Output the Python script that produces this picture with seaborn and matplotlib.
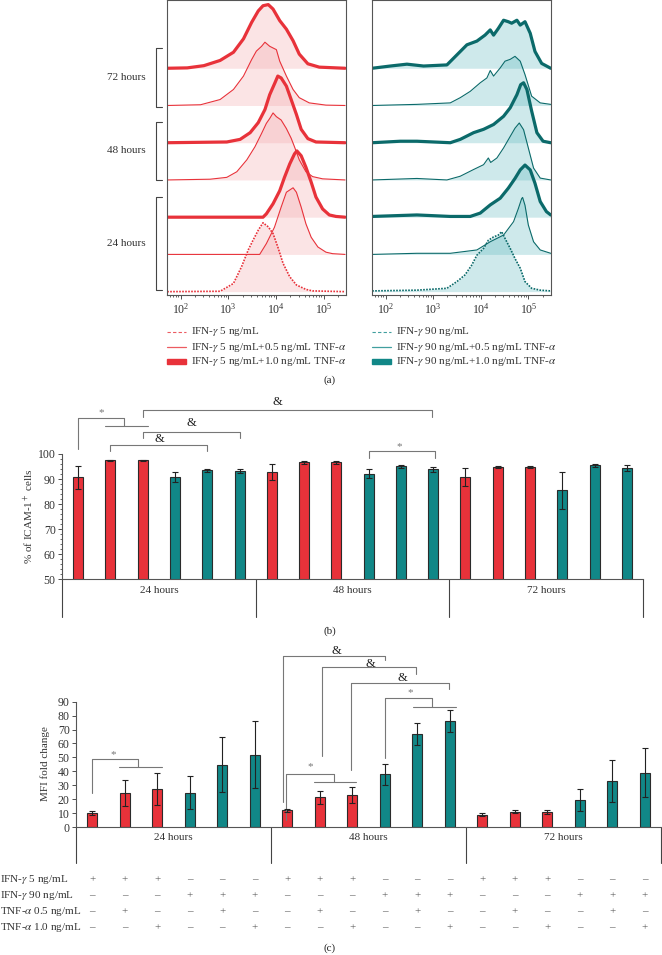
"""
ICAM-1 expression figure: flow histograms (a), % positive cells (b), MFI fold change (c).
"""
import numpy as np
import pandas as pd
import matplotlib
matplotlib.use("Agg")
import matplotlib.pyplot as plt
import matplotlib.transforms as mtransforms
from matplotlib.lines import Line2D
from matplotlib.patches import Rectangle
from matplotlib.ticker import LogLocator, NullFormatter, MultipleLocator
import seaborn as sns

# ---- data -------------------------------------------------------------------
times = ["24 hours", "48 hours", "72 hours"]

# histogram profiles: (log10 fluorescence, height in units of the row spacing)
red_ifn = [(1.72, 0), (2.83, 0.01), (3.11, 0.22), (3.28, 0.67), (3.42, 1.12), (3.52, 1.38),
           (3.63, 1.65), (3.73, 1.85), (3.84, 1.74), (3.94, 1.56), (4.04, 1.20), (4.15, 0.76),
           (4.29, 0.40), (4.43, 0.18), (4.63, 0.06), (4.77, 0.02), (5.45, 0)]
red_24h_05 = [(1.72, 0), (3.66, 0), (3.80, 0.29), (3.97, 0.73), (4.11, 1.27), (4.22, 1.67),
              (4.29, 1.73), (4.36, 1.79), (4.43, 1.67), (4.53, 1.27), (4.63, 0.82), (4.74, 0.46),
              (4.88, 0.20), (5.05, 0.06), (5.19, 0.02), (5.45, 0)]
red_24h_10 = [(1.72, 0), (3.73, 0), (3.80, 0.09), (3.94, 0.36), (4.08, 0.71), (4.18, 1.07),
              (4.29, 1.43), (4.39, 1.70), (4.44, 1.78), (4.53, 1.65), (4.63, 1.34), (4.74, 0.94),
              (4.84, 0.54), (4.98, 0.22), (5.12, 0.06), (5.26, 0.02), (5.45, 0)]
red_48h_05 = [(1.72, 0), (2.62, 0.02), (2.97, 0.07), (3.18, 0.22), (3.39, 0.54), (3.56, 0.89),
              (3.70, 1.25), (3.80, 1.52), (3.87, 1.65), (3.94, 1.80), (4.01, 1.70), (4.11, 1.61),
              (4.22, 1.38), (4.32, 1.12), (4.39, 0.89), (4.49, 0.54), (4.63, 0.22), (4.77, 0.09),
              (4.98, 0.03), (5.45, 0)]
red_48h_10 = [(1.72, 0), (2.97, 0.02), (3.25, 0.09), (3.46, 0.27), (3.63, 0.54), (3.77, 0.89),
              (3.87, 1.29), (3.98, 1.61), (4.04, 1.79), (4.11, 1.74), (4.22, 1.52), (4.32, 1.16),
              (4.43, 0.76), (4.53, 0.36), (4.67, 0.11), (4.84, 0.02), (5.45, 0)]
red_72h_05 = [(1.72, 0), (2.42, 0.02), (2.83, 0.16), (3.11, 0.43), (3.32, 0.79), (3.49, 1.23),
              (3.59, 1.46), (3.70, 1.59), (3.77, 1.70), (3.87, 1.59), (4.01, 1.50), (4.08, 1.19),
              (4.22, 0.79), (4.36, 0.43), (4.49, 0.21), (4.70, 0.07), (5.05, 0.01), (5.45, 0)]
red_72h_10 = [(1.72, 0), (2.14, 0.01), (2.49, 0.07), (2.83, 0.21), (3.11, 0.43), (3.32, 0.79),
              (3.49, 1.23), (3.63, 1.54), (3.73, 1.68), (3.84, 1.71), (3.94, 1.59), (4.08, 1.28),
              (4.22, 1.05), (4.36, 0.74), (4.49, 0.38), (4.67, 0.12), (4.91, 0.03), (5.45, 0)]

teal_ifn = [(1.72, 0.02), (2.66, 0.04), (3.29, 0.09), (3.50, 0.27), (3.67, 0.45), (3.81, 0.71),
            (3.92, 0.98), (4.06, 1.16), (4.16, 1.38), (4.27, 1.47), (4.37, 1.52), (4.44, 1.61),
            (4.51, 1.43), (4.62, 1.16), (4.72, 0.89), (4.83, 0.63), (4.93, 0.27), (5.07, 0.09),
            (5.25, 0.04), (5.47, 0.02)]
teal_24h_05 = [(1.72, 0), (2.66, 0.03), (3.36, 0.03), (3.92, 0.12), (4.20, 0.34), (4.48, 0.52),
               (4.69, 0.88), (4.79, 1.23), (4.86, 1.50), (4.88, 1.53), (4.93, 1.32), (5.00, 0.79),
               (5.11, 0.34), (5.25, 0.12), (5.47, 0.03)]
teal_24h_10 = [(1.72, 0.02), (2.66, 0.06), (3.36, 0.02), (3.78, 0.02), (3.99, 0.11), (4.20, 0.33),
               (4.41, 0.51), (4.58, 0.78), (4.72, 1.04), (4.83, 1.27), (4.93, 1.40), (5.04, 1.27),
               (5.14, 0.91), (5.25, 0.42), (5.38, 0.15), (5.47, 0.06)]
teal_48h_05 = [(1.72, 0), (2.66, 0.04), (3.29, 0), (3.57, 0.10), (3.85, 0.28), (4.06, 0.41),
               (4.16, 0.59), (4.21, 0.47), (4.34, 0.59), (4.48, 0.86), (4.62, 1.17), (4.72, 1.39),
               (4.81, 1.53), (4.90, 1.35), (5.00, 0.86), (5.11, 0.32), (5.25, 0.05), (5.47, 0)]
teal_48h_10 = [(1.72, 0), (2.31, 0.04), (2.66, 0.04), (3.36, 0), (3.57, 0.09), (3.85, 0.27),
               (4.06, 0.36), (4.27, 0.49), (4.48, 0.71), (4.62, 0.94), (4.76, 1.29), (4.84, 1.56),
               (4.90, 1.61), (4.97, 1.43), (5.07, 0.85), (5.18, 0.27), (5.31, 0.04), (5.47, 0)]
teal_72h_05 = [(1.72, 0), (2.66, 0.03), (3.36, 0.07), (3.57, 0.21), (3.78, 0.38), (3.99, 0.61),
               (4.13, 0.74), (4.20, 0.94), (4.27, 0.79), (4.41, 1.01), (4.51, 1.19), (4.62, 1.24),
               (4.72, 1.32), (4.83, 1.19), (4.93, 0.83), (5.07, 0.25), (5.25, 0.07), (5.47, 0.03)]
teal_72h_10 = [(1.72, 0), (2.10, 0.06), (2.45, 0.11), (2.80, 0.06), (3.29, 0.09), (3.50, 0.36),
               (3.71, 0.63), (3.92, 0.73), (4.09, 0.89), (4.20, 1.03), (4.27, 0.89), (4.37, 1.07),
               (4.48, 1.29), (4.58, 1.25), (4.65, 1.21), (4.76, 1.29), (4.83, 1.16), (4.93, 1.25),
               (5.04, 0.94), (5.14, 0.45), (5.28, 0.13), (5.47, 0)]

# bar panels, 18 conditions (6 per time point)
ifn_dose = ["IFN5", "IFN5", "IFN5", "IFN90", "IFN90", "IFN90"] * 3
icam_pct = [90.7, 97.5, 97.5, 90.7, 93.6, 93.2, 92.8, 96.7, 96.8,
            92.2, 95.1, 93.9, 90.7, 94.9, 94.7, 85.5, 95.5, 94.3]
icam_sd = [4.6, 0.2, 0.2, 2.0, 0.6, 0.9, 3.2, 0.6, 0.6,
           1.7, 0.6, 1.1, 3.6, 0.3, 0.4, 7.4, 0.6, 1.2]
mfi_fold = [10.1, 24.7, 27.5, 24.7, 44.8, 51.9, 12.0, 21.5, 23.0,
            37.8, 66.6, 75.9, 8.9, 10.8, 10.8, 19.2, 33.3, 38.8]
mfi_sd = [1.2, 9.3, 11.5, 12.0, 19.5, 24.0, 1.1, 4.7, 6.0,
          7.5, 8.0, 7.8, 1.0, 1.1, 1.7, 8.0, 15.0, 17.6]

table_rows = ["IFN-$\\gamma$ 5 ng/mL", "IFN-$\\gamma$ 90 ng/mL",
              "TNF-$\\alpha$ 0.5 ng/mL", "TNF-$\\alpha$ 1.0 ng/mL"]
table_ifn5 = ["+", "+", "+", "–", "–", "–"] * 3
table_ifn90 = ["–", "–", "–", "+", "+", "+"] * 3
table_tnf05 = ["–", "+", "–", "–", "+", "–"] * 3
table_tnf10 = ["–", "–", "+", "–", "–", "+"] * 3

# ---- styling ----------------------------------------------------------------
W, H = 662, 955
RED = "#e8323a"
TEAL = "#118787"
TEAL_LINE = "#0b6a6a"
GREY = "#555555"

sns.set_style("ticks")
plt.rcParams['font.family'] = ['Liberation Serif', 'DejaVu Serif']
plt.rcParams['mathtext.fontset'] = 'stix'

fig = plt.figure(figsize=(W / 100, H / 100), dpi=100)


def fx(x):
    return x / W


def fy(y):
    return 1 - y / H


def box(l, t, r, b):
    return [l / W, 1 - b / H, (r - l) / W, (b - t) / H]


def fig_line(xs, ys, **kw):
    fig.add_artist(Line2D([fx(v) for v in xs], [fy(v) for v in ys],
                          transform=fig.transFigure, **kw))


# ---- (a) histograms ---------------------------------------------------------
styles = [dict(lw=1.2, ls=(0, (1, 0.8))), dict(lw=0.8), dict(lw=2.3)] + \
         [dict(lw=0.8), dict(lw=2.3)] * 2


def draw_hist(ax, curves, line_color, fill_color):
    for k, pts in enumerate(curves):
        lx, h = np.array(pts).T
        ax.fill_between(10 ** lx, k, k + h, color=fill_color, alpha=0.3, lw=0)
    for k, pts in enumerate(curves):
        lx, h = np.array(pts).T
        ax.plot(10 ** lx, k + h, color=line_color, solid_joinstyle='round', **styles[k])
    ax.set_xscale('log')
    ax.set_xlim(10 ** 1.71, 10 ** 5.47)
    ax.set_ylim(-0.09, 7.82)
    ax.set_yticks([])
    ax.xaxis.set_major_locator(LogLocator(base=10, numticks=10))
    ax.xaxis.set_minor_locator(LogLocator(base=10, subs=np.arange(2, 10), numticks=10))
    ax.xaxis.set_minor_formatter(NullFormatter())
    ax.tick_params(axis='x', which='major', length=3, width=0.6, labelsize=8.5, pad=2,
                   colors='#333333')
    ax.tick_params(axis='x', which='minor', length=1.5, width=0.5)
    for s in ax.spines.values():
        s.set_color(GREY)
        s.set_linewidth(0.8)


ax_l = fig.add_axes(box(166.7, 0.5, 346, 295))
draw_hist(ax_l, [red_ifn, red_24h_05, red_24h_10, red_48h_05, red_48h_10,
                 red_72h_05, red_72h_10], RED, "#f4a6ab")
ax_r = fig.add_axes(box(371.7, 0.5, 550.7, 295))
draw_hist(ax_r, [teal_ifn, teal_24h_05, teal_24h_10, teal_48h_05, teal_48h_10,
                 teal_72h_05, teal_72h_10], TEAL_LINE, "#5fb8bf")

# time brackets left of the histograms
for top, bot, label in [(47.7, 106.7, "72 hours"), (121.7, 180, "48 hours"),
                        (196.7, 290, "24 hours")]:
    fig_line([161.7, 156, 156, 161.7], [top, top, bot, bot], color='#444444', lw=0.8)
    fig.text(fx(146), fy((top + bot) / 2), label, ha='right', va='center',
             fontsize=8, color='#333333')

# legends
for x0, dose, lc in [(167, "5", RED), (372, "90", TEAL)]:
    labels = [f"IFN-$\\gamma$ {dose} ng/mL",
              f"IFN-$\\gamma$ {dose} ng/mL+0.5 ng/mL TNF-$\\alpha$",
              f"IFN-$\\gamma$ {dose} ng/mL+1.0 ng/mL TNF-$\\alpha$"]
    ys = [332, 347, 362]
    fig_line([x0, x0 + 19], [ys[0], ys[0]], color=lc, lw=0.8, ls=(0, (3, 2)), alpha=0.8)
    fig_line([x0, x0 + 19], [ys[1], ys[1]], color=lc, lw=0.9, alpha=0.8)
    fig.add_artist(Rectangle((fx(x0), fy(ys[2] + 2.5)), 19 / W, 5 / H, color=lc,
                             transform=fig.transFigure))
    for y, lab in zip(ys, labels):
        fig.text(fx(x0 + 24), fy(y), lab, ha='left', va='center', fontsize=8,
                 color='#333333')

fig.text(fx(330), fy(380), "(a)", ha='center', va='center', fontsize=8)


# ---- bar panels -------------------------------------------------------------
def bar_panel(ax, values, errors):
    df = pd.DataFrame({"cond": range(len(values)), "value": values, "dose": ifn_dose})
    sns.barplot(data=df, x="cond", y="value", hue="dose", dodge=False, width=0.31,
                palette={"IFN5": RED, "IFN90": TEAL}, saturation=1, edgecolor="#2b2b2b",
                linewidth=0.8, legend=False, ax=ax)
    ax.errorbar(range(len(values)), values, yerr=errors, fmt='none', ecolor='#222222',
                elinewidth=0.8, capsize=2.5, capthick=0.8, zorder=5)
    ax.set_xlim(-0.5, 17.5)
    ax.set_xticks([])
    ax.set_xlabel("")
    ax.set_ylabel("")
    sns.despine(ax=ax)
    for s in ("left", "bottom"):
        ax.spines[s].set_color(GREY)
        ax.spines[s].set_linewidth(0.8)
    ax.tick_params(axis='y', which='major', length=3, width=0.6, labelsize=8.5, pad=1.5,
                   colors='#333333')
    ax.tick_params(axis='y', which='minor', length=1.5, width=0.5)


def groups(ax, drop, label_drop):
    tr = ax.get_xaxis_transform()
    for xd in (-0.5, 5.5, 11.5, 17.5):
        ax.add_line(Line2D([xd, xd], [0, -drop], transform=tr, clip_on=False,
                           color='#444444', lw=0.8))
    for g, t in enumerate(times):
        ax.text(g * 6 + 2.5, -label_drop, t, transform=tr, ha='center', va='center',
                fontsize=8, color='#333333')


def sig(ax, xs, ys, mark=None, at=None, color='#777777'):
    ax.add_line(Line2D(xs, ys, color=color, lw=0.8, clip_on=False))
    if mark:
        ax.text(at[0], at[1], mark, ha='center', va='center', clip_on=False,
                fontsize=9 if mark == "&" else 8,
                color='#222222' if mark == "&" else '#777777')


# (b) % ICAM-1+ cells
ax_b = fig.add_axes(box(62, 454, 643, 579.3))
bar_panel(ax_b, icam_pct, icam_sd)
ax_b.set_ylim(50, 100)
ax_b.yaxis.set_major_locator(MultipleLocator(10))
ax_b.yaxis.set_minor_locator(MultipleLocator(2))
groups(ax_b, 38 / 125.3, 11 / 125.3)
fig.text(fx(29), fy(516.5), "% of ICAM-1$^+$ cells", rotation=90, ha='center',
         va='center', fontsize=8, color='#333333')

sig(ax_b, [0, 0, 1.43, 1.43], [101.9, 114.5, 114.5, 111.2], "*", (0.71, 116.4))
sig(ax_b, [0.83, 2.15], [111.2, 111.2])
sig(ax_b, [1, 1, 4, 4], [101.2, 103.6, 103.6, 101.2], "&", (2.53, 105.9))
sig(ax_b, [2, 2, 5, 5], [106.5, 108.6, 108.6, 106.5], "&", (3.52, 112.2))
sig(ax_b, [2, 2, 10.95, 10.95], [114.9, 117.6, 117.6, 114.9], "&", (6.17, 120.6))
sig(ax_b, [9, 9, 11.07, 11.07], [98.3, 101.2, 101.2, 98.3], "*", (9.95, 103.1))
fig.text(fx(330), fy(631), "(b)", ha='center', va='center', fontsize=8)

# (c) MFI fold change
ax_c = fig.add_axes(box(76, 701.7, 661, 827))
bar_panel(ax_c, mfi_fold, mfi_sd)
ax_c.set_ylim(0, 90)
ax_c.yaxis.set_major_locator(MultipleLocator(10))
groups(ax_c, 36 / 125.3, 10.5 / 125.3)
fig.text(fx(45), fy(764), "MFI fold change", rotation=90, ha='center', va='center',
         fontsize=8, color='#333333')

sig(ax_c, [0, 0, 1.40, 1.40], [24.2, 49.1, 49.1, 42.9], "*", (0.65, 51.9))
sig(ax_c, [0.82, 2.14], [42.9, 42.9])
sig(ax_c, [5.95, 5.95, 7.44, 7.44], [5.0, 38.3, 38.3, 32.1], "*", (6.7, 43.1))
sig(ax_c, [6.83, 8.13], [32.1, 32.1])
sig(ax_c, [5.88, 5.88, 9.0, 9.0], [18.2, 122.8, 122.8, 120.0], "&", (7.5, 126.4))
sig(ax_c, [7.07, 7.07, 9.96, 9.96], [51.2, 114.6, 114.6, 109.9], "&", (8.57, 117.4))
sig(ax_c, [7.95, 7.95, 10.98, 10.98], [40.9, 103.2, 103.2, 98.9], "&", (9.54, 107.0))
sig(ax_c, [9.02, 9.02, 10.45, 10.45], [49.3, 92.9, 92.9, 86.4], "*", (9.79, 96.2))
sig(ax_c, [9.87, 11.18], [86.4, 86.4])

# treatment table under (c)
blend = mtransforms.blended_transform_factory(ax_c.transData, fig.transFigure)
for row_y, label, marks in zip([879.3, 895.7, 911.7, 927.7], table_rows,
                               [table_ifn5, table_ifn90, table_tnf05, table_tnf10]):
    fig.text(fx(0.5), fy(row_y), label, ha='left', va='center', fontsize=8,
             color='#333333')
    for i, m in enumerate(marks):
        ax_c.text(i, fy(row_y), m, transform=blend, ha='center', va='center',
                  fontsize=8, color='#555555')

fig.text(fx(330), fy(948), "(c)", ha='center', va='center', fontsize=8)

fig.savefig("out.png", dpi=100)
plt.close(fig)
